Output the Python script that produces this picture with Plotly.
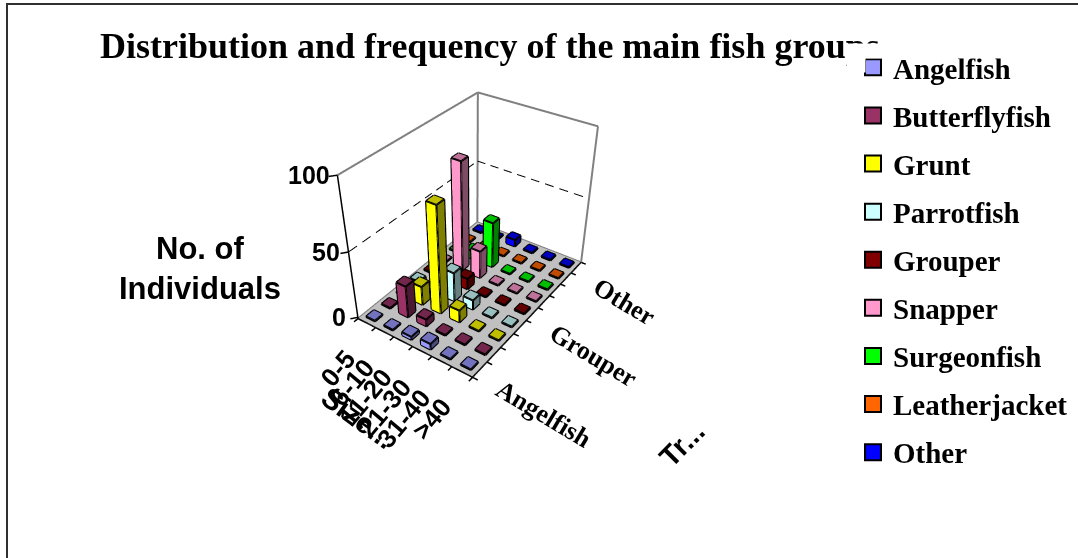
import plotly.graph_objects as go

sizes = ["0-5", "6-10", "11-20", "21-30", "31-40", ">40"]
species = ["Angelfish", "Butterflyfish", "Grunt", "Parrotfish", "Grouper", "Snapper", "Surgeonfish", "Leatherjacket", "Other"]
colors = ["#9999FF", "#993366", "#FFFF00", "#CCFFFF", "#800000", "#FF99CC", "#00FF00", "#FF6600", "#0000FF"]
angelfish = [0, 0, 2, 4, 0, 0]
butterflyfish = [0, 24, 5, 0, 0, 0]
grunt = [0, 14, 79, 9, 0, 0]
parrotfish = [2, 0, 22, 7, 0, 0]
grouper = [0, 0, 8, 0, 0, 0]
snapper = [0, 82, 21, 0, 0, 0]
surgeonfish = [0, 6, 35, 0, 0, 0]
leatherjacket = [0, 0, 0, 0, 0, 0]
other = [0, 0, 5, 0, 0, 0]
values = [angelfish, butterflyfish, grunt, parrotfish, grouper, snapper, surgeonfish, leatherjacket, other]
z_ticks = [0, 50, 100]
y_tick_idx = [0, 4, 8]

XR = [-0.8, 5.8]; YR = [-0.8, 8.8]; ZR = [-1.5, 100.5]
XLO, XHI, YLO, YHI, ZLO, ZHI = -0.5, 5.5, -0.5, 8.5, -1.0, 100.0
FLAT = dict(ambient=1, diffuse=0, specular=0, fresnel=0)

def shade(c, k):
    r, g, b = int(c[1:3],16), int(c[3:5],16), int(c[5:7],16)
    return f"rgb({int(r*k)},{int(g*k)},{int(b*k)})"

fig = go.Figure()
fig.add_trace(go.Mesh3d(x=[XLO,XHI,XHI,XLO], y=[YLO,YLO,YHI,YHI], z=[ZLO]*4, i=[0,0], j=[1,2], k=[2,3],
    color="#C0C0C0", flatshading=True, lighting=FLAT, hoverinfo="skip", showlegend=False))

W = 0.25
for si, (name, col, row) in enumerate(zip(species, colors, values)):
    vx, vy, vz, ii, jj, kk, fc = [], [], [], [], [], [], []
    lx, ly, lz = [], [], []
    for sj, v in enumerate(row):
        x0, x1, y0, y1 = sj-W, sj+W, si-W, si+W
        b = ZLO*0.5
        n = len(vx)
        vx += [x0,x1,x1,x0,x0,x1,x1,x0]; vy += [y0,y0,y1,y1,y0,y0,y1,y1]; vz += [b]*4+[v]*4
        for a, bb, c, k in [(4,5,6,.75),(4,6,7,.75),(0,1,5,1),(0,5,4,1),(1,2,6,.5),(1,6,5,.5)]:
            ii.append(n+a); jj.append(n+bb); kk.append(n+c); fc.append(shade(col,k))
        for e in [(0,1),(1,2),(0,4),(1,5),(2,6),(4,5),(5,6),(6,7),(7,4)]:
            lx += [vx[n+e[0]],vx[n+e[1]],None]; ly += [vy[n+e[0]],vy[n+e[1]],None]; lz += [vz[n+e[0]],vz[n+e[1]],None]
    fig.add_trace(go.Mesh3d(x=vx,y=vy,z=vz,i=ii,j=jj,k=kk,facecolor=fc,flatshading=True,
        lighting=FLAT,name=name,showlegend=False,hoverinfo="skip"))
    fig.add_trace(go.Scatter3d(x=lx,y=ly,z=lz,mode="lines",line=dict(color="black",width=4),showlegend=False,hoverinfo="skip"))
    fig.add_trace(go.Scatter3d(x=[None],y=[None],z=[None],mode="markers",name=name,legendgroup=name,
        marker=dict(symbol="square",size=16,color=col,line=dict(color="black",width=2))))

def add_lines(ps, color, width):
    xs, ys, zs = [], [], []
    for a, b in ps:
        xs += [a[0],b[0],None]; ys += [a[1],b[1],None]; zs += [a[2],b[2],None]
    fig.add_trace(go.Scatter3d(x=xs,y=ys,z=zs,mode="lines",line=dict(color=color,width=width),showlegend=False,hoverinfo="skip"))

def dashes(a, b, n):
    out = []
    for q in range(n):
        t0 = q/n; t1 = (q+0.6)/n
        out.append((tuple(a[k]+(b[k]-a[k])*t0 for k in range(3)), tuple(a[k]+(b[k]-a[k])*t1 for k in range(3))))
    return out

add_lines([((XLO,YLO,100),(XLO,YHI,100)),((XLO,YHI,100),(XHI,YHI,100)),((XHI,YHI,100),(XHI,YHI,ZLO)),
           ((XLO,YHI,ZLO),(XLO,YHI,100)),((XLO,YLO,ZLO),(XLO,YHI,ZLO)),((XLO,YHI,ZLO),(XHI,YHI,ZLO))], "#808080", 4)
add_lines(dashes((XLO,YLO,50),(XLO,YHI,50),11)+dashes((XLO,YHI,50),(XHI,YHI,50),8), "black", 2)
ax_lines = [((XLO,YLO,ZLO),(XLO,YLO,100)),((XLO,YLO,ZLO),(XHI,YLO,ZLO)),((XHI,YLO,ZLO),(XHI,YHI,ZLO))]
for t in z_ticks:
    ax_lines.append(((XLO,YLO,max(t,ZLO)),(XLO-0.2,YLO-0.25,max(t,ZLO))))
for j in range(len(sizes)+1):
    ax_lines.append(((j-0.5,YLO,ZLO),(j-0.5,YLO-0.25,ZLO)))
for i in range(len(species)+1):
    ax_lines.append(((XHI,i-0.5,ZLO),(XHI+0.25,i-0.5,ZLO)))
add_lines(ax_lines, "black", 3)

sans = "Liberation Sans"; serif = "Liberation Serif"
ann3d = []
for t, sh in zip(z_ticks, [-10, -6, -5]):
    ann3d.append(dict(x=XLO,y=YLO,z=t,text=f"<b>{t}</b>",showarrow=False,xanchor="right",yanchor="middle",xshift=sh,
        font=dict(family=sans,size=25,color="black")))
for j, s in enumerate(sizes):
    ann3d.append(dict(x=j,y=YLO,z=ZLO,text=f"<b>{s.replace('>','&gt;')}</b>",showarrow=False,textangle=-50,xanchor="right",yanchor="top",xshift=-2,yshift=-18,
        font=dict(family=sans,size=26,color="black")))
for i in y_tick_idx:
    ann3d.append(dict(x=XHI,y=i,z=ZLO,text=f"<b>{species[i]}</b>",showarrow=False,textangle=31,xanchor="left",yanchor="top",xshift=9,yshift=-2,
        font=dict(family=serif,size=26,color="black")))

def P(x, y, text, size, angle=0, family=sans):
    return dict(xref="paper",yref="paper",x=x/1078,y=1-y/558,xanchor="center",yanchor="middle",text=f"<b>{text}</b>",showarrow=False,textangle=angle,
        font=dict(family=family,size=size,color="black"))
def mask(x, y, w, h):
    return dict(xref="paper",yref="paper",x=x/1078,y=1-y/558,xanchor="left",yanchor="top",text=" ",showarrow=False,
                width=w,height=h,bgcolor="white",borderpad=0,font=dict(size=8))
anns = [mask(846,43,232,14), mask(846,55,18,16),
        P(200,248,"No. of",31), P(200,288,"Individuals",31), P(358,418,"Size...",29,36), P(682,444,"Tr...",29,-45)]

fig.update_layout(
    width=1078,height=558,margin=dict(l=0,r=0,t=0,b=0),paper_bgcolor="white",
    title=dict(text="<b>Distribution and frequency of the main fish groups</b>",x=100/1078,xanchor="left",y=1-45/558,yanchor="middle",
        font=dict(family=serif,size=36,color="black")),
    font=dict(family=serif),
    legend=dict(x=853/1078,y=1-42/558,xanchor="left",yanchor="top",tracegroupgap=7.4,itemwidth=30,bgcolor="rgba(0,0,0,0)",
        font=dict(family=serif,size=29,color="black",weight="bold"),traceorder="grouped"),
    showlegend=True,
    shapes=[dict(type="rect",xref="paper",yref="paper",x0=7/1078,x1=1.1,y0=-0.1,y1=1-4/558,line=dict(color="#303030",width=2),layer="above")],
    scene=dict(
        domain=dict(x=[0,948/1078],y=[0,1]),
        xaxis=dict(range=XR,visible=False),yaxis=dict(range=YR,visible=False),zaxis=dict(range=ZR,visible=False),
        aspectmode="manual",aspectratio=dict(x=0.633,y=0.925,z=0.680),
        camera=dict(eye=dict(x=1.286,y=-1.861,z=1.522),center=dict(x=0.062,y=-0.099,z=-0.188),up=dict(x=0,y=0,z=1),projection=dict(type="perspective")),
        annotations=ann3d,
    ),
    annotations=anns,
)
fig.write_html("out.html", post_script="document.body.style.margin='0';", config=dict(displayModeBar=False))
